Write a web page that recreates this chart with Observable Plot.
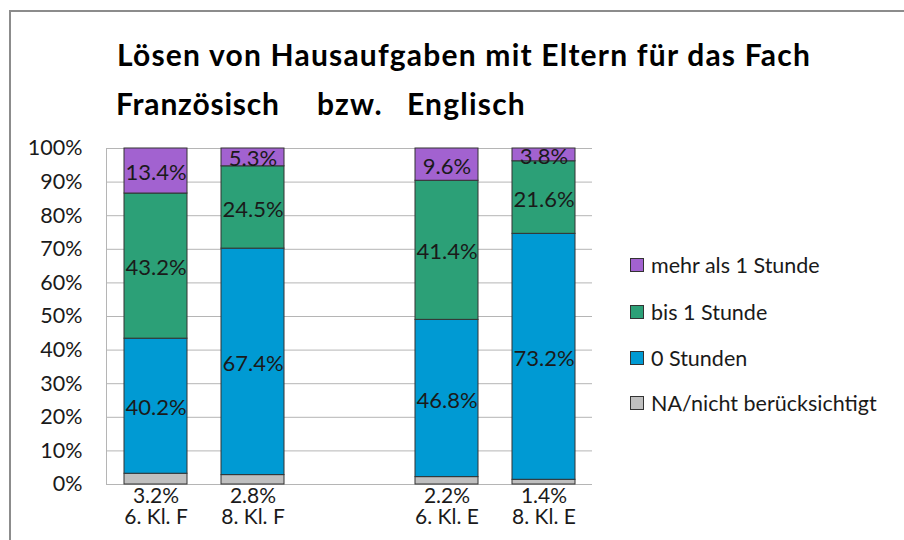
<!DOCTYPE html>
<html>
<head>
<meta charset="utf-8">
<script src="https://cdn.jsdelivr.net/npm/d3@7"></script>
<script src="https://cdn.jsdelivr.net/npm/@observablehq/plot@0.6"></script>
<style>
  html, body { margin: 0; padding: 0; background: #fff; }
  body { width: 904px; height: 540px; position: relative; overflow: hidden; font-family: Lato, "Open Sans", sans-serif; }
  #frame { position: absolute; left: 9px; top: 10px; width: 920px; height: 560px; border-top: 2px solid #8c8c8c; border-left: 2px solid #8c8c8c; }
  .title { position: absolute; font-weight: bold; font-size: 30px; line-height: 30px; letter-spacing: 1.2px; color: #000; white-space: nowrap; }
  #chart { position: absolute; left: 0; top: 0; }
  #legend { position: absolute; left: 630px; top: 0; font-size: 21.5px; color: #1a1a1a; }
  .li { position: absolute; left: 0; white-space: nowrap; display: flex; align-items: center; }
  .sw { width: 12px; height: 12px; border: 1px solid #333; margin-right: 7px; }
</style>
</head>
<body>
<div id="frame"></div>
<div class="title" style="left:117px; top:39px;">Lösen von Hausaufgaben mit Eltern für das Fach</div>
<div class="title" style="left:116px; top:88px; letter-spacing:0.8px;">Französisch</div>
<div class="title" style="left:317px; top:88px;">bzw.</div>
<div class="title" style="left:407px; top:88px;">Englisch</div>
<div id="chart"></div>
<div id="legend"></div>
<script>
// Categories (the empty one is the gap between the two subjects)
const categories = ["6. Kl. F", "8. Kl. F", "", "6. Kl. E", "8. Kl. E"];
const barCategories = ["6. Kl. F", "8. Kl. F", "6. Kl. E", "8. Kl. E"];
// Series, bottom to top
const seriesNames = ["NA/nicht berücksichtigt", "0 Stunden", "bis 1 Stunde", "mehr als 1 Stunde"];
const seriesColors = ["#bfbfbf", "#009ad3", "#2ca077", "#a262d0"];
// Values per series (percent), in barCategories order
const naValues    = [3.2, 2.8, 2.2, 1.4];
const zeroValues  = [40.2, 67.4, 46.8, 73.2];
const upTo1Values = [43.2, 24.5, 41.4, 21.6];
const moreValues  = [13.4, 5.3, 9.6, 3.8];
const yTicks = [0, 10, 20, 30, 40, 50, 60, 70, 80, 90, 100];

const seriesValues = [naValues, zeroValues, upTo1Values, moreValues];
const data = [];
barCategories.forEach((c, i) => {
  seriesNames.forEach((s, j) => data.push({cat: c, series: s, value: seriesValues[j][i]}));
});
const naByCat = new Map(barCategories.map((c, i) => [c, naValues[i]]));
const fmt = v => v.toFixed(1) + "%";

const chart = Plot.plot({
  width: 904,
  height: 540,
  marginLeft: 106,
  marginRight: 312,
  marginTop: 148,
  marginBottom: 56,
  style: { fontFamily: "Lato, 'Open Sans', sans-serif", fontSize: "22px", color: "#1a1a1a", background: "transparent" },
  x: { domain: categories, padding: 0, axis: null },
  y: { domain: [0, 100], axis: null },
  color: { domain: seriesNames, range: seriesColors },
  marks: [
    Plot.ruleY(yTicks, { stroke: "#b5b5b5", strokeWidth: 1 }),
    Plot.frame({ anchor: "left", stroke: "#b5b5b5" }),
    Plot.barY(data, Plot.stackY({
      x: "cat", y: "value", fill: "series", order: seriesNames,
      stroke: "#333", strokeWidth: 1, insetLeft: 17, insetRight: 17
    })),
    Plot.text(data, Plot.stackY({
      x: "cat", y: "value", z: "series", order: seriesNames,
      text: d => d.series === seriesNames[0] ? null : fmt(d.value),
      fill: "#1a1a1a", fontSize: 22, dy: 2
    })),
    Plot.axisY({ ticks: yTicks, tickFormat: d => d + "%", tickSize: 0, tickPadding: 24, fontSize: 21.5, label: null }),
    Plot.axisX({
      tickSize: 0, tickPadding: 4, fontSize: 21, lineHeight: 1, label: null,
      tickFormat: c => c === "" ? "" : fmt(naByCat.get(c)) + "\n" + c
    })
  ]
});
document.getElementById("chart").appendChild(chart);

// Legend (top to bottom: reverse of stack order)
const legend = document.getElementById("legend");
const legendTops = [265, 312, 358, 403];
seriesNames.slice().reverse().forEach((s, i) => {
  const j = seriesNames.indexOf(s);
  const item = document.createElement("div");
  item.className = "li";
  item.style.top = (legendTops[i] - 13) + "px";
  item.innerHTML = `<span class="sw" style="background:${seriesColors[j]}"></span><span>${s}</span>`;
  legend.appendChild(item);
});
</script>
</body>
</html>
